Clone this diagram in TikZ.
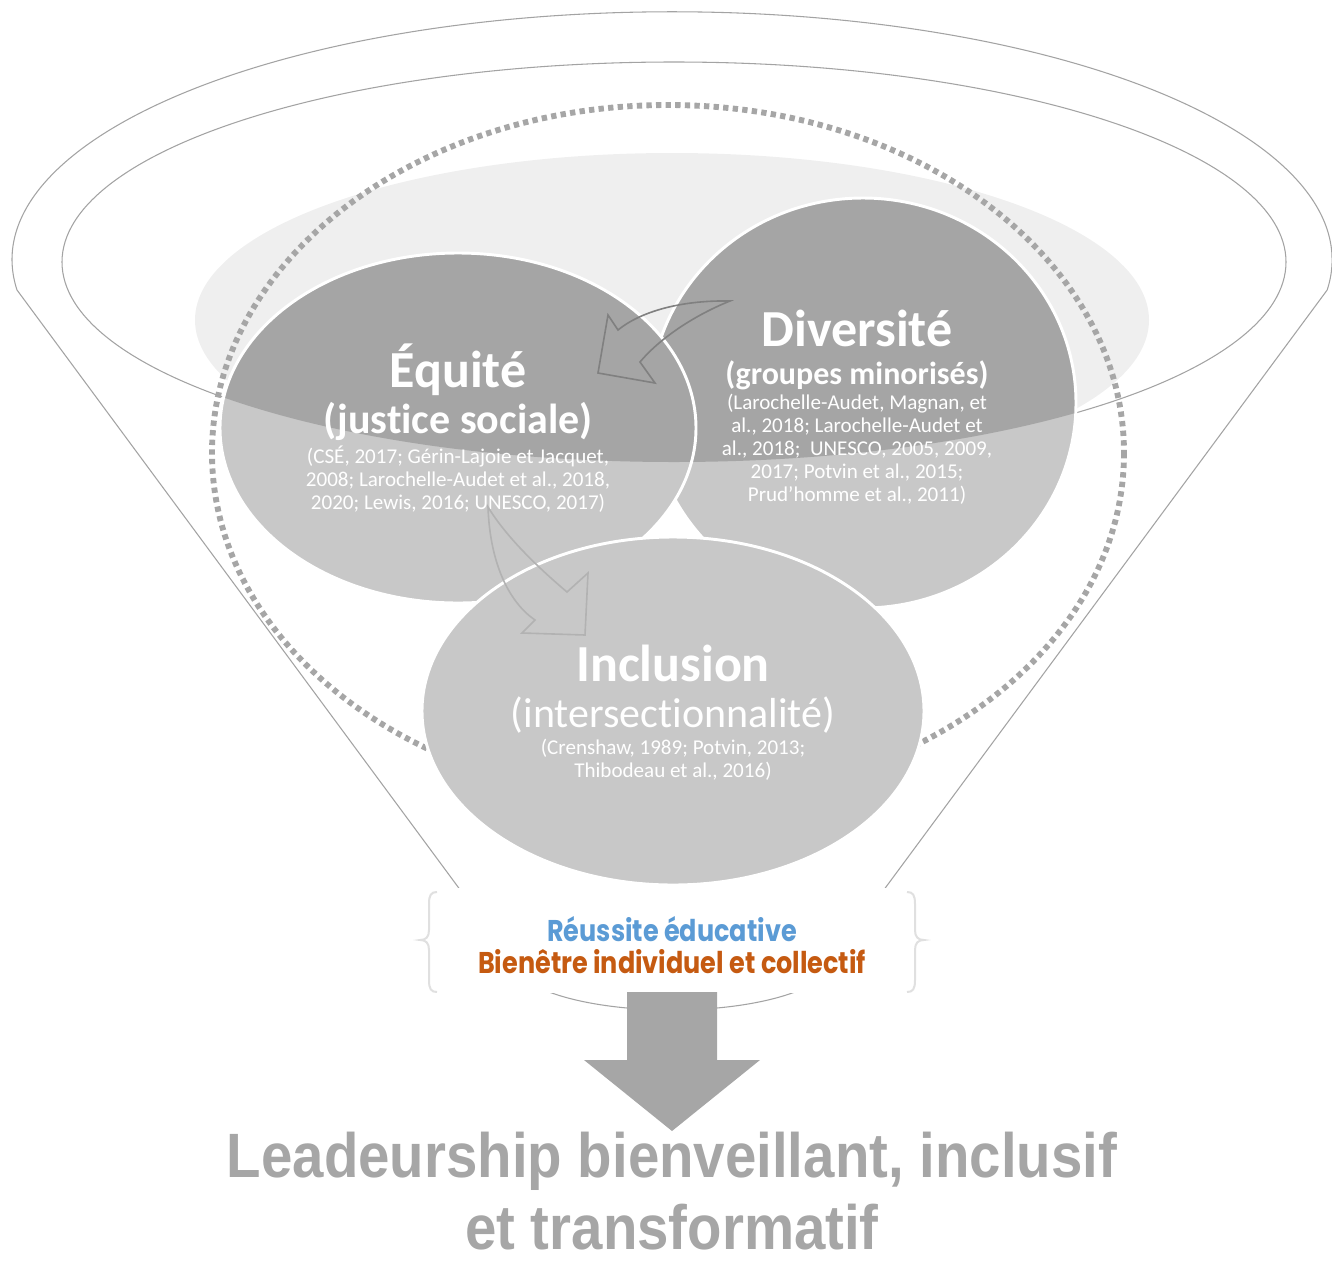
\documentclass[tikz,border=0pt]{standalone}
\usepackage{fontspec}
\setmainfont{Carlito}[Ligatures=NoCommon]
\newfontfamily\gothfont{Poppins}[FakeStretch=0.85]
\newfontfamily\narrowfont{Liberation Sans}[FakeStretch=0.9]
\usetikzlibrary{shapes}
\definecolor{darkdisc}{HTML}{A5A5A5}
\definecolor{lightdisc}{HTML}{C8C8C8}
\definecolor{mouthfill}{HTML}{EFEFEF}
\definecolor{rimline}{HTML}{A3A3A3}
\definecolor{dotgray}{HTML}{A6A6A6}
\definecolor{bracegray}{HTML}{E0E0E0}
\definecolor{successblue}{HTML}{5B9BD5}
\definecolor{wellorange}{HTML}{C55A11}
\definecolor{titlegray}{HTML}{A6A6A6}
\tikzstyle{rim} = [draw=rimline, line width=0.8pt]
\tikzstyle{dotring} = [draw=dotgray, line width=4.4pt, dash pattern=on 4pt off 3.2pt]
\tikzstyle{discEdge} = [draw=white, line width=2.2pt]
\tikzstyle{headline} = [text=white, inner sep=0pt, font=\bfseries\fontsize{39}{44}\selectfont]
\tikzstyle{subline} = [text=white, inner sep=0pt, font=\bfseries\fontsize{31.5}{36}\selectfont]
\tikzstyle{refs} = [text=white, inner sep=0pt, align=center, font=\fontsize{15.8}{17.25}\selectfont]
\tikzstyle{bentArrow} = [line width=1.2pt, line join=miter]
\tikzstyle{outcome} = [inner sep=0pt, font=\gothfont\bfseries\fontsize{22.5}{26}\selectfont]
\tikzstyle{banner} = [text=titlegray, inner sep=0pt, font=\narrowfont\bfseries\fontsize{47}{50}\selectfont]
\tikzset{sidebrace/.pic={
  \draw[bracegray, line width=1.5pt] (0,0) .. controls (6,0) and (8,3) .. (8,12) -- (8,38)
    .. controls (8,45) and (11,48) .. (17,48) .. controls (11,48) and (8,51) .. (8,58)
    -- (8,88) .. controls (8,97) and (6,100) .. (0,100);
}}

\begin{document}
\begin{tikzpicture}[x=0.75pt, y=-0.75pt]
		\useasboundingbox (0,0) rectangle (1332,1261);

		%funnel
		\begin{scope}
			\clip (674,262) ellipse [x radius=612, y radius=200];
			\fill[mouthfill] (672,320) ellipse [x radius=477, y radius=167];
		\end{scope}
		\draw[rim] (512,960) -- (17,290) arc[start angle=173, end angle=367, x radius=660, y radius=248]
			-- (832,960) arc[start angle=0, end angle=180, x radius=160, y radius=50];
		\draw[rim] (674,262) ellipse [x radius=612, y radius=200];
		\draw[dotring] (668,453) ellipse [x radius=456, y radius=348];

		%discs
		\coordinate (diversite) at (863,403);
		\coordinate (equite) at (458,428);
		\coordinate (inclusion) at (673,711);
		\fill[lightdisc] (diversite) ellipse [x radius=213, y radius=205];
		\begin{scope}
			\clip (674,262) ellipse [x radius=612, y radius=200];
			\fill[darkdisc] (diversite) ellipse [x radius=213, y radius=205];
		\end{scope}
		\draw[discEdge] (diversite) ellipse [x radius=213, y radius=205];
		\fill[lightdisc] (equite) ellipse [x radius=238, y radius=175];
		\begin{scope}
			\clip (674,262) ellipse [x radius=612, y radius=200];
			\fill[darkdisc] (equite) ellipse [x radius=238, y radius=175];
		\end{scope}
		\draw[discEdge] (equite) ellipse [x radius=238, y radius=175];
		\fill[lightdisc] (inclusion) ellipse [x radius=251, y radius=174];
		\draw[discEdge] (inclusion) ellipse [x radius=251, y radius=174];

		%texts
		\node[headline] (equiteTitle) at (458,370) {Équité};
		\node[subline] (equiteSub) at (458,421) {(justice sociale)};
		\node[refs] (equiteRefs) at (458,479) {(CSÉ, 2017; Gérin-Lajoie et Jacquet,\\2008; Larochelle-Audet et al., 2018,\\2020; Lewis, 2016; UNESCO, 2017)};
		\node[headline] (diversiteTitle) at (857,328) {Diversité};
		\node[subline, font=\bfseries\fontsize{24}{28}\selectfont] (diversiteSub) at (857,375) {(groupes minorisés)};
		\node[refs] (diversiteRefs) at (857,449) {(Larochelle-Audet, Magnan, et\\al., 2018; Larochelle-Audet et\\al., 2018;\ \ UNESCO, 2005, 2009,\\2017; Potvin et al., 2015;\\Prud’homme et al., 2011)};
		\node[headline] (inclusionTitle) at (673,663) {Inclusion};
		\node[subline, font=\fontsize{31.5}{36}\selectfont] (inclusionSub) at (673,715) {(intersectionnalité)};
		\node[refs] (inclusionRefs) at (673,760) {(Crenshaw, 1989; Potvin, 2013;\\Thibodeau et al., 2016)};

		%arrows
		\draw[bentArrow, draw=black!50] (730,301) .. controls (680,300) and (640,312) .. (618,330) -- (608,315)
			-- (598,373) -- (655,383) -- (640,362) .. controls (660,338) and (695,315) .. (730,301) -- cycle;
		\draw[bentArrow, draw=black!30] (488,507) .. controls (490,565) and (510,603) .. (535,620) -- (522,633)
			-- (585,635) -- (588,573) -- (567,592) .. controls (535,565) and (505,535) .. (488,507) -- cycle;

		%outcomes
		\fill[white] (425,888) rectangle (920,993);
		\pic at (907,892) {sidebrace};
		\pic[xscale=-1] at (437,892) {sidebrace};
		\node[outcome, text=successblue] (reussite) at (672,929) {Réussite éducative};
		\node[outcome, text=wellorange] (bienetre) at (672,962) {Bienêtre individuel et collectif};
		\fill[titlegray] (627,992) -- (717,992) -- (717,1060) -- (760,1060) -- (672,1131) -- (584,1060) -- (627,1060) -- cycle;
		\node[banner] (leadership) at (672,1161) {Leadeurship bienveillant, inclusif};
		\node[banner] (transformatif) at (672,1227) {et transformatif};
	\end{tikzpicture}
\end{document}
